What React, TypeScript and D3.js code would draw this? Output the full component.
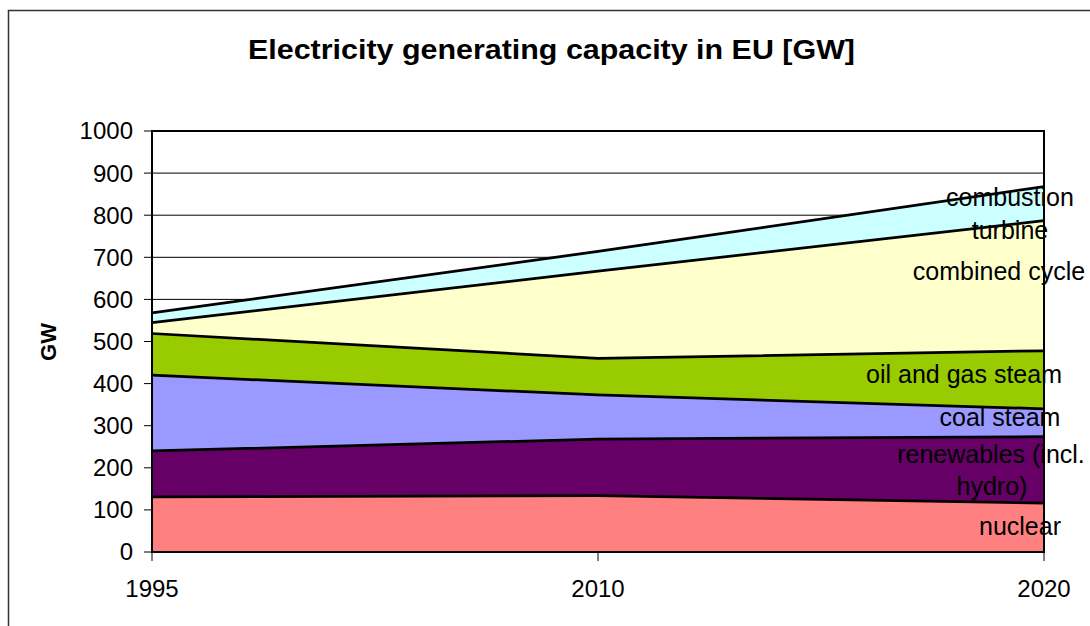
import React from "react";
import * as d3 from "d3";

// Installed capacity by technology, GW
const years = ["1995", "2010", "2020"];
const nuclear = [131, 134, 116];
const renewables = [109, 134, 158];
const coalSteam = [180, 105, 66];
const oilGasSteam = [99, 87, 138];
const combinedCycle = [26, 207, 309];
const combustionTurbine = [23, 47, 81];

const seriesKeys = [
  "nuclear",
  "renewables",
  "coalSteam",
  "oilGasSteam",
  "combinedCycle",
  "combustionTurbine",
];
const seriesValues = [nuclear, renewables, coalSteam, oilGasSteam, combinedCycle, combustionTurbine];
const seriesColors = ["#FF8080", "#660066", "#9999FF", "#99CC00", "#FFFFCC", "#CCFFFF"];
const yTicks = [0, 100, 200, 300, 400, 500, 600, 700, 800, 900, 1000];

const W = 1090;
const H = 626;
const plot = { left: 152, right: 1044, top: 131, bottom: 552 };
const FONT = "'Liberation Sans', Arial, Helvetica, sans-serif";

// In-chart series labels (centre x, baseline y)
const seriesLabels = [
  { text: "combustion", x: 1010, y: 206 },
  { text: "turbine", x: 1010, y: 239 },
  { text: "combined cycle", x: 999, y: 280 },
  { text: "oil and gas steam", x: 964, y: 383 },
  { text: "coal steam", x: 1000, y: 426 },
  { text: "renewables (incl.", x: 991, y: 463 },
  { text: "hydro)", x: 992, y: 495 },
  { text: "nuclear", x: 1020, y: 535 },
];

export default function App() {
  const table = years.map((year, i) => {
    const row: Record<string, number | string> = { year };
    seriesKeys.forEach((k, s) => (row[k] = seriesValues[s][i]));
    return row;
  });

  const stacked = d3.stack<any>().keys(seriesKeys)(table);

  const x = d3.scalePoint<string>().domain(years).range([plot.left, plot.right]);
  const y = d3.scaleLinear().domain([0, 1000]).range([plot.bottom, plot.top]);

  const area = d3
    .area<any>()
    .x((d) => x(d.data.year) as number)
    .y0((d) => y(d[0]))
    .y1((d) => y(d[1]));
  const topLine = d3
    .line<any>()
    .x((d) => x(d.data.year) as number)
    .y((d) => y(d[1]));

  return (
    <svg
      width={W}
      height={H}
      style={{ position: "absolute", left: 0, top: 0, background: "#fff" }}
      fontFamily={FONT}
    >
      <rect x={0} y={0} width={W} height={H} fill="#fff" />
      {/* chart frame */}
      <path d={`M8.5,${H + 5}V10.5H${W + 5}`} fill="none" stroke="#333" strokeWidth={1.5} />

      <text x={551.5} y={59} textAnchor="middle" fontSize={27} fontWeight="bold" textLength={607} lengthAdjust="spacingAndGlyphs">
        Electricity generating capacity in EU [GW]
      </text>

      {/* gridlines */}
      {yTicks.map((t) => (
        <line key={`g${t}`} x1={plot.left} x2={plot.right} y1={y(t)} y2={y(t)} stroke="#000" strokeWidth={1} />
      ))}

      {/* stacked areas */}
      {stacked.map((layer, i) => (
        <path key={`a${i}`} d={area(layer) as string} fill={seriesColors[i]} stroke="none" />
      ))}
      {stacked.map((layer, i) => (
        <path key={`l${i}`} d={topLine(layer) as string} fill="none" stroke="#000" strokeWidth={2.75} strokeLinejoin="round" />
      ))}

      {/* plot border */}
      <rect
        x={plot.left}
        y={plot.top}
        width={plot.right - plot.left}
        height={plot.bottom - plot.top}
        fill="none"
        stroke="#000"
        strokeWidth={2}
      />

      {/* y axis */}
      {yTicks.map((t) => (
        <g key={`y${t}`}>
          <line x1={plot.left - 8} x2={plot.left} y1={y(t)} y2={y(t)} stroke="#000" strokeWidth={1} />
          <text x={133} y={y(t)} dy="0.35em" textAnchor="end" fontSize={24}>
            {t}
          </text>
        </g>
      ))}
      <text
        transform={`translate(48,342) rotate(-90)`}
        textAnchor="middle"
        dy="0.35em"
        fontSize={22}
        fontWeight="bold"
      >
        GW
      </text>

      {/* x axis */}
      {years.map((yr) => (
        <g key={`x${yr}`}>
          <line x1={x(yr)} x2={x(yr)} y1={plot.bottom} y2={plot.bottom + 9} stroke="#000" strokeWidth={1} />
          <text x={x(yr)} y={597} textAnchor="middle" fontSize={24}>
            {yr}
          </text>
        </g>
      ))}

      {/* series labels */}
      {seriesLabels.map((l) => (
        <text key={l.text} x={l.x} y={l.y} textAnchor="middle" fontSize={25} fill="#000">
          {l.text}
        </text>
      ))}
    </svg>
  );
}
